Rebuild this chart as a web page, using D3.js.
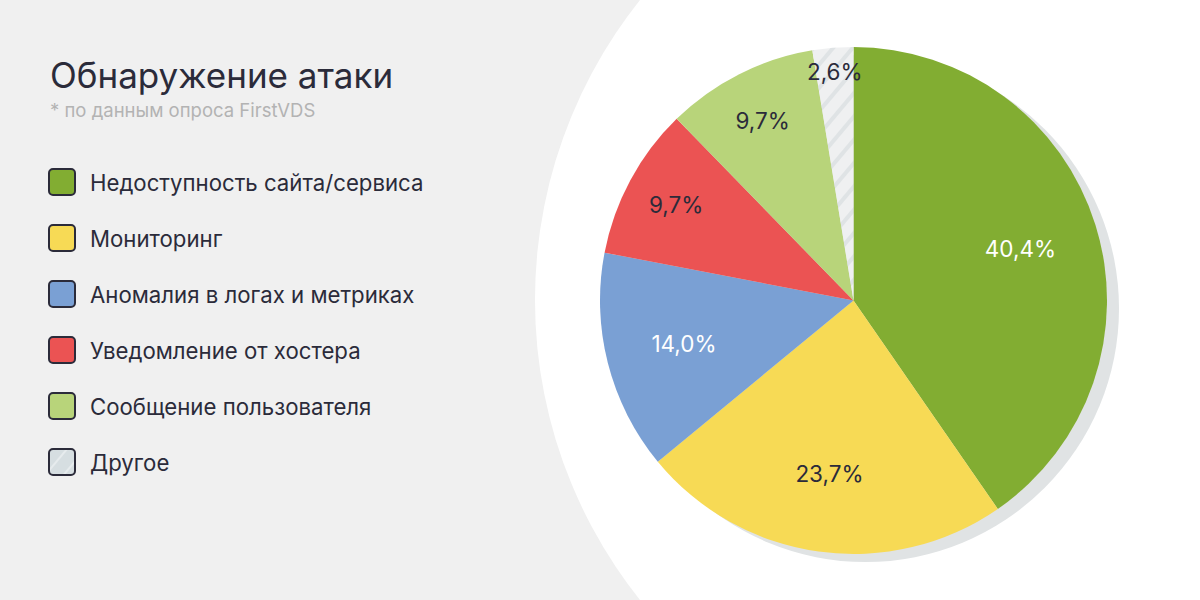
<!DOCTYPE html>
<html><head><meta charset="utf-8">
<script src="https://cdn.jsdelivr.net/npm/d3@7/dist/d3.min.js"></script>
<style>body{margin:0;background:#f0f0f0;}svg{display:block;}</style>
</head><body>
<svg id="c" width="1200" height="600"></svg>
<script>
const title = "Обнаружение атаки";
const subtitle = "* по данным опроса FirstVDS";
const categories = ["Недоступность сайта/сервиса","Мониторинг","Аномалия в логах и метриках","Уведомление от хостера","Сообщение пользователя","Другое"];
const values = [40.4, 23.7, 14.0, 9.7, 9.7, 2.6];
const labels = ["40,4%","23,7%","14,0%","9,7%","9,7%","2,6%"];
const colors = ["#82ad32","#f7da55","#7aa0d4","#eb5353","#b8d47a","url(#hatch)"];
const swatchColors = ["#82ad32","#f7da55","#7aa0d4","#eb5353","#b8d47a","url(#hatchS)"];
const labelColors = ["#ffffff","#2b2b3a","#ffffff","#2b2b3a","#2b2b3a","#2b2b3a"];

const font = "Inter, sans-serif";
const svg = d3.select("#c");
const W = 1200, H = 600;
const defs = svg.append("defs");
const p = defs.append("pattern").attr("id","hatch").attr("patternUnits","userSpaceOnUse")
  .attr("width",15).attr("height",15).attr("patternTransform","rotate(40)");
p.append("rect").attr("width",15).attr("height",15).attr("fill","#eff0f1");
p.append("rect").attr("x",0).attr("width",4).attr("height",15).attr("fill","#dfe3e5");
const ps = defs.append("pattern").attr("id","hatchS").attr("patternUnits","userSpaceOnUse")
  .attr("width",14).attr("height",14).attr("patternTransform","rotate(40)");
ps.append("rect").attr("width",14).attr("height",14).attr("fill","#d6dee1");
ps.append("rect").attr("x",0).attr("width",2).attr("height",14).attr("fill","#e6ebed");

svg.append("rect").attr("width",W).attr("height",H).attr("fill","#f0f0f0");
svg.append("circle").attr("cx",1016).attr("cy",300).attr("r",481).attr("fill","#ffffff");

const cx = 853.5, cy = 300.5, r = 253.5;
svg.append("circle").attr("cx",cx+12).attr("cy",cy+8).attr("r",r).attr("fill","#e0e3e4");

const pie = d3.pie().sort(null).value(d=>d)(values);
const arc = d3.arc().innerRadius(0).outerRadius(r);
const g = svg.append("g").attr("transform",`translate(${cx},${cy})`);
g.selectAll("path").data(pie).join("path").attr("d",arc).attr("fill",(d,i)=>colors[i]);

g.selectAll("text").data(pie).join("text")
  .attr("transform",d=>{
    const f = d.data > 12 ? 0.69 : (d.data < 5 ? 0.905 : 0.795);
    const a = (d.startAngle+d.endAngle)/2;
    return `translate(${Math.sin(a)*r*f},${-Math.cos(a)*r*f})`;
  })
  .attr("text-anchor","middle").attr("dominant-baseline","central")
  .attr("font-family",font).attr("font-size",22.5)
  .attr("fill",(d,i)=>labelColors[i]).text((d,i)=>labels[i]);

svg.append("text").attr("x",50).attr("y",88).attr("font-family",font).attr("font-size",35)
  .attr("fill","#2b2b3a").text(title);
svg.append("text").attr("x",50).attr("y",117).attr("font-family",font).attr("font-size",18.5)
  .attr("fill","#b3b3b3").text(subtitle);

const y = d3.scaleBand().domain(categories).range([154,490]);
const lg = svg.append("g");
const row = lg.selectAll("g").data(categories).join("g")
  .attr("transform",d=>`translate(0,${y(d)+y.bandwidth()/2})`);
row.append("rect").attr("x",49).attr("y",-13).attr("width",26).attr("height",26).attr("rx",4)
  .attr("fill",(d,i)=>swatchColors[i]).attr("stroke","#2b2b3a").attr("stroke-width",2);
row.append("text").attr("x",90).attr("dominant-baseline","central").attr("font-family",font)
  .attr("font-size",22.2).attr("fill","#2b2b3a").text(d=>d);
</script>
</body></html>
